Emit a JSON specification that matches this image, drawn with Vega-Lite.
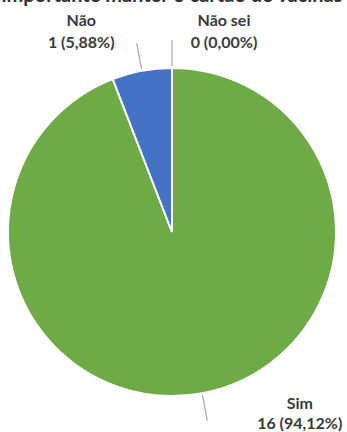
{
  "$schema": "https://vega.github.io/schema/vega-lite/v6.json",
  "autosize": "none",
  "width": 344,
  "height": 400,
  "padding": {"top": 32, "left": 0, "right": 3, "bottom": 0},
  "background": "white",
  "title": {
    "text": "importante manter o cartão de vacinas",
    "anchor": "middle",
    "frame": "group",
    "baseline": "alphabetic",
    "offset": 7,
    "dy": 16,
    "font": "Lato",
    "fontSize": 20,
    "fontWeight": "bold",
    "color": "#333333"
  },
  "data": {
    "values": [
      {"resposta": "Sim", "n": 16, "rotulo": "Sim\n16 (94,12%)", "ordem": 1},
      {"resposta": "Não", "n": 1, "rotulo": "Não\n1 (5,88%)", "ordem": 2},
      {"resposta": "Não sei", "n": 0, "rotulo": "Não sei\n0 (0,00%)", "ordem": 3}
    ]
  },
  "transform": [
    {"stack": "n", "groupby": [], "sort": [{"field": "ordem", "order": "ascending"}], "as": ["inicio", "fim"]},
    {"calculate": "(datum.inicio + datum.fim) / 2", "as": "meio"}
  ],
  "layer": [
    {
      "mark": {"type": "arc", "outerRadius": 164, "stroke": "white", "strokeWidth": 2},
      "encoding": {
        "theta": {"field": "inicio", "type": "quantitative", "scale": {"domain": [0, 17]}},
        "theta2": {"field": "fim"},
        "color": {
          "field": "resposta",
          "type": "nominal",
          "scale": {"domain": ["Sim", "Não", "Não sei"], "range": ["#6EAB46", "#4472C4", "#A5A5A5"]},
          "legend": null
        }
      }
    },
    {
      "mark": {"type": "arc", "radius": 192, "radius2": 166, "fill": null, "stroke": "#a6a6a6", "strokeWidth": 1.2},
      "encoding": {
        "theta": {"field": "meio", "type": "quantitative", "scale": {"domain": [0, 17]}},
        "theta2": {"field": "meio"}
      }
    },
    {
      "transform": [{"filter": "datum.resposta === 'Não'"}],
      "mark": {"type": "text", "radius": 200, "dx": -54, "dy": -14, "lineBreak": "\n", "lineHeight": 22, "font": "Lato", "fontSize": 16, "fontWeight": "bold", "color": "#3a3a3a", "baseline": "middle"},
      "encoding": {
        "theta": {"field": "meio", "type": "quantitative", "scale": {"domain": [0, 17]}},
        "text": {"field": "rotulo"}
      }
    },
    {
      "transform": [{"filter": "datum.resposta === 'Não sei'"}],
      "mark": {"type": "text", "radius": 200, "dx": 52, "dy": -11, "lineBreak": "\n", "lineHeight": 22, "font": "Lato", "fontSize": 16, "fontWeight": "bold", "color": "#3a3a3a", "baseline": "middle"},
      "encoding": {
        "theta": {"field": "meio", "type": "quantitative", "scale": {"domain": [0, 17]}},
        "text": {"field": "rotulo"}
      }
    },
    {
      "transform": [{"filter": "datum.resposta === 'Sim'"}],
      "mark": {"type": "text", "radius": 200, "dx": 91, "dy": -25, "lineBreak": "\n", "lineHeight": 20, "font": "Lato", "fontSize": 16, "fontWeight": "bold", "color": "#3a3a3a", "baseline": "middle"},
      "encoding": {
        "theta": {"field": "meio", "type": "quantitative", "scale": {"domain": [0, 17]}},
        "text": {"field": "rotulo"}
      }
    }
  ]
}
